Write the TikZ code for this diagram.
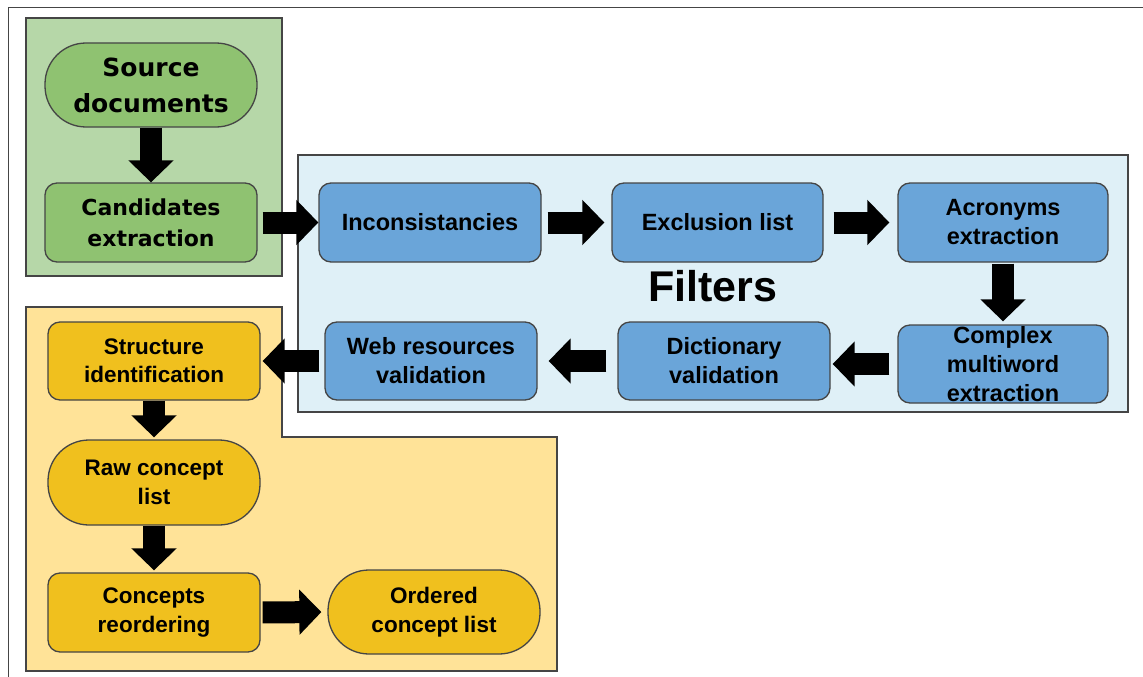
\documentclass[tikz,border=0pt]{standalone}
\usepackage{fontspec}
\usepackage{tikz}
\usetikzlibrary{arrows.meta}
\newfontfamily\arialfont{Liberation Sans}
\newfontfamily\dejafont{DejaVu Sans}
\definecolor{edgegray}{HTML}{454545}
\definecolor{panelgreen}{HTML}{B6D7A8}
\definecolor{nodegreen}{HTML}{8FC271}
\definecolor{panelblue}{HTML}{DFF0F7}
\definecolor{nodeblue}{HTML}{6AA5D9}
\definecolor{panelyellow}{HTML}{FFE398}
\definecolor{nodeyellow}{HTML}{F0C01E}
\tikzset{
	panel/.style={draw=edgegray, line width=1.5pt},
	box/.style={draw=edgegray, line width=1.3pt, rounded corners=12pt, minimum width=212pt, minimum height=79pt, inner sep=0pt, align=center},
	pill/.style={box, rounded corners=41pt, minimum height=84pt},
	greenbox/.style={fill=nodegreen, font=\dejafont\bfseries\fontsize{22}{31}\selectfont},
	bluebox/.style={fill=nodeblue, font=\arialfont\bfseries\fontsize{23.5}{29}\selectfont},
	yellowbox/.style={fill=nodeyellow, font=\arialfont\bfseries\fontsize{22.5}{28.5}\selectfont},
	flow/.style={draw=black, line width=22pt, -{Triangle[width=44pt,length=22pt]}}
}

\begin{document}
\begin{tikzpicture}[x=1pt, y=-1pt]
	\useasboundingbox (0,0) rectangle (1143,677);
	%\draw[step=50, gray!30] (0,0) grid (1143,677);
	\draw[line width=1pt, edgegray] (8,677) -- (8,8) -- (1143,8);
	% panels
	\draw[panel, fill=panelgreen] (26,18) rectangle (282,276);
	\draw[panel, fill=panelblue] (298,155) rectangle (1128,412);
	\draw[panel, fill=panelyellow] (26,307) -- (282,307) -- (282,437) -- (557,437) -- (557,671) -- (26,671) -- cycle;
	\node[font=\arialfont\bfseries\fontsize{43}{50}\selectfont] (filters) at (713,286) {Filters};
	% green part
	\node[pill, greenbox, font=\dejafont\bfseries\fontsize{25}{36}\selectfont] (src) at (151,85) {Source\\documents};
	\node[box, greenbox] (cand) at (151,222.5) {Candidates\\extraction};
	% filters
	\node[box, bluebox, minimum width=222pt] (incons) at (430,222.5) {Inconsistancies};
	\node[box, bluebox, minimum width=211pt] (excl) at (717.5,222.5) {Exclusion list};
	\node[box, bluebox, minimum width=210pt] (acro) at (1003,222.5) {Acronyms\\extraction};
	\node[box, bluebox, minimum width=210pt, minimum height=78pt] (cmplx) at (1003,364) {Complex\\multiword\\extraction};
	\node[box, bluebox, minimum height=78pt] (dict) at (724,361) {Dictionary\\validation};
	\node[box, bluebox, minimum height=78pt] (web) at (431,361) {Web resources\\validation};
	% yellow part
	\node[box, yellowbox, minimum height=78pt] (struct) at (154,361) {Structure\\identification};
	\node[pill, yellowbox, minimum height=85pt] (raw) at (154,482.5) {Raw concept\\list};
	\node[box, yellowbox] (reord) at (154,612.5) {Concepts\\reordering};
	\node[pill, yellowbox] (ordered) at (434,612) {Ordered\\concept list};
	% arrows
	\draw[flow] (src.south) -- (cand.north);
	\draw[flow, shorten <=5pt] (cand.east) -- (incons.west);
	\draw[flow, shorten <=6pt, shorten >=7pt] (incons.east) -- (excl.west);
	\draw[flow, shorten <=10pt, shorten >=8pt] (excl.east) -- (acro.west);
	\draw[flow, shorten <=1pt, shorten >=3pt] (acro.south) -- (cmplx.north);
	\draw[flow, shorten <=8pt, shorten >=2pt] (cmplx.west) -- (cmplx.west -| dict.east);
	\draw[flow, shorten <=11pt, shorten >=11pt] (dict.west) -- (web.east);
	\draw[flow, shorten <=5pt, shorten >=2pt] (web.west) -- (struct.east);
	\draw[flow, shorten >=2pt] (struct.south) -- (raw.north);
	\draw[flow, shorten >=2pt] (raw.south) -- (reord.north);
	\draw[flow, shorten <=2pt, shorten >=6pt] (reord.east) -- (ordered.west);
\end{tikzpicture}
\end{document}
